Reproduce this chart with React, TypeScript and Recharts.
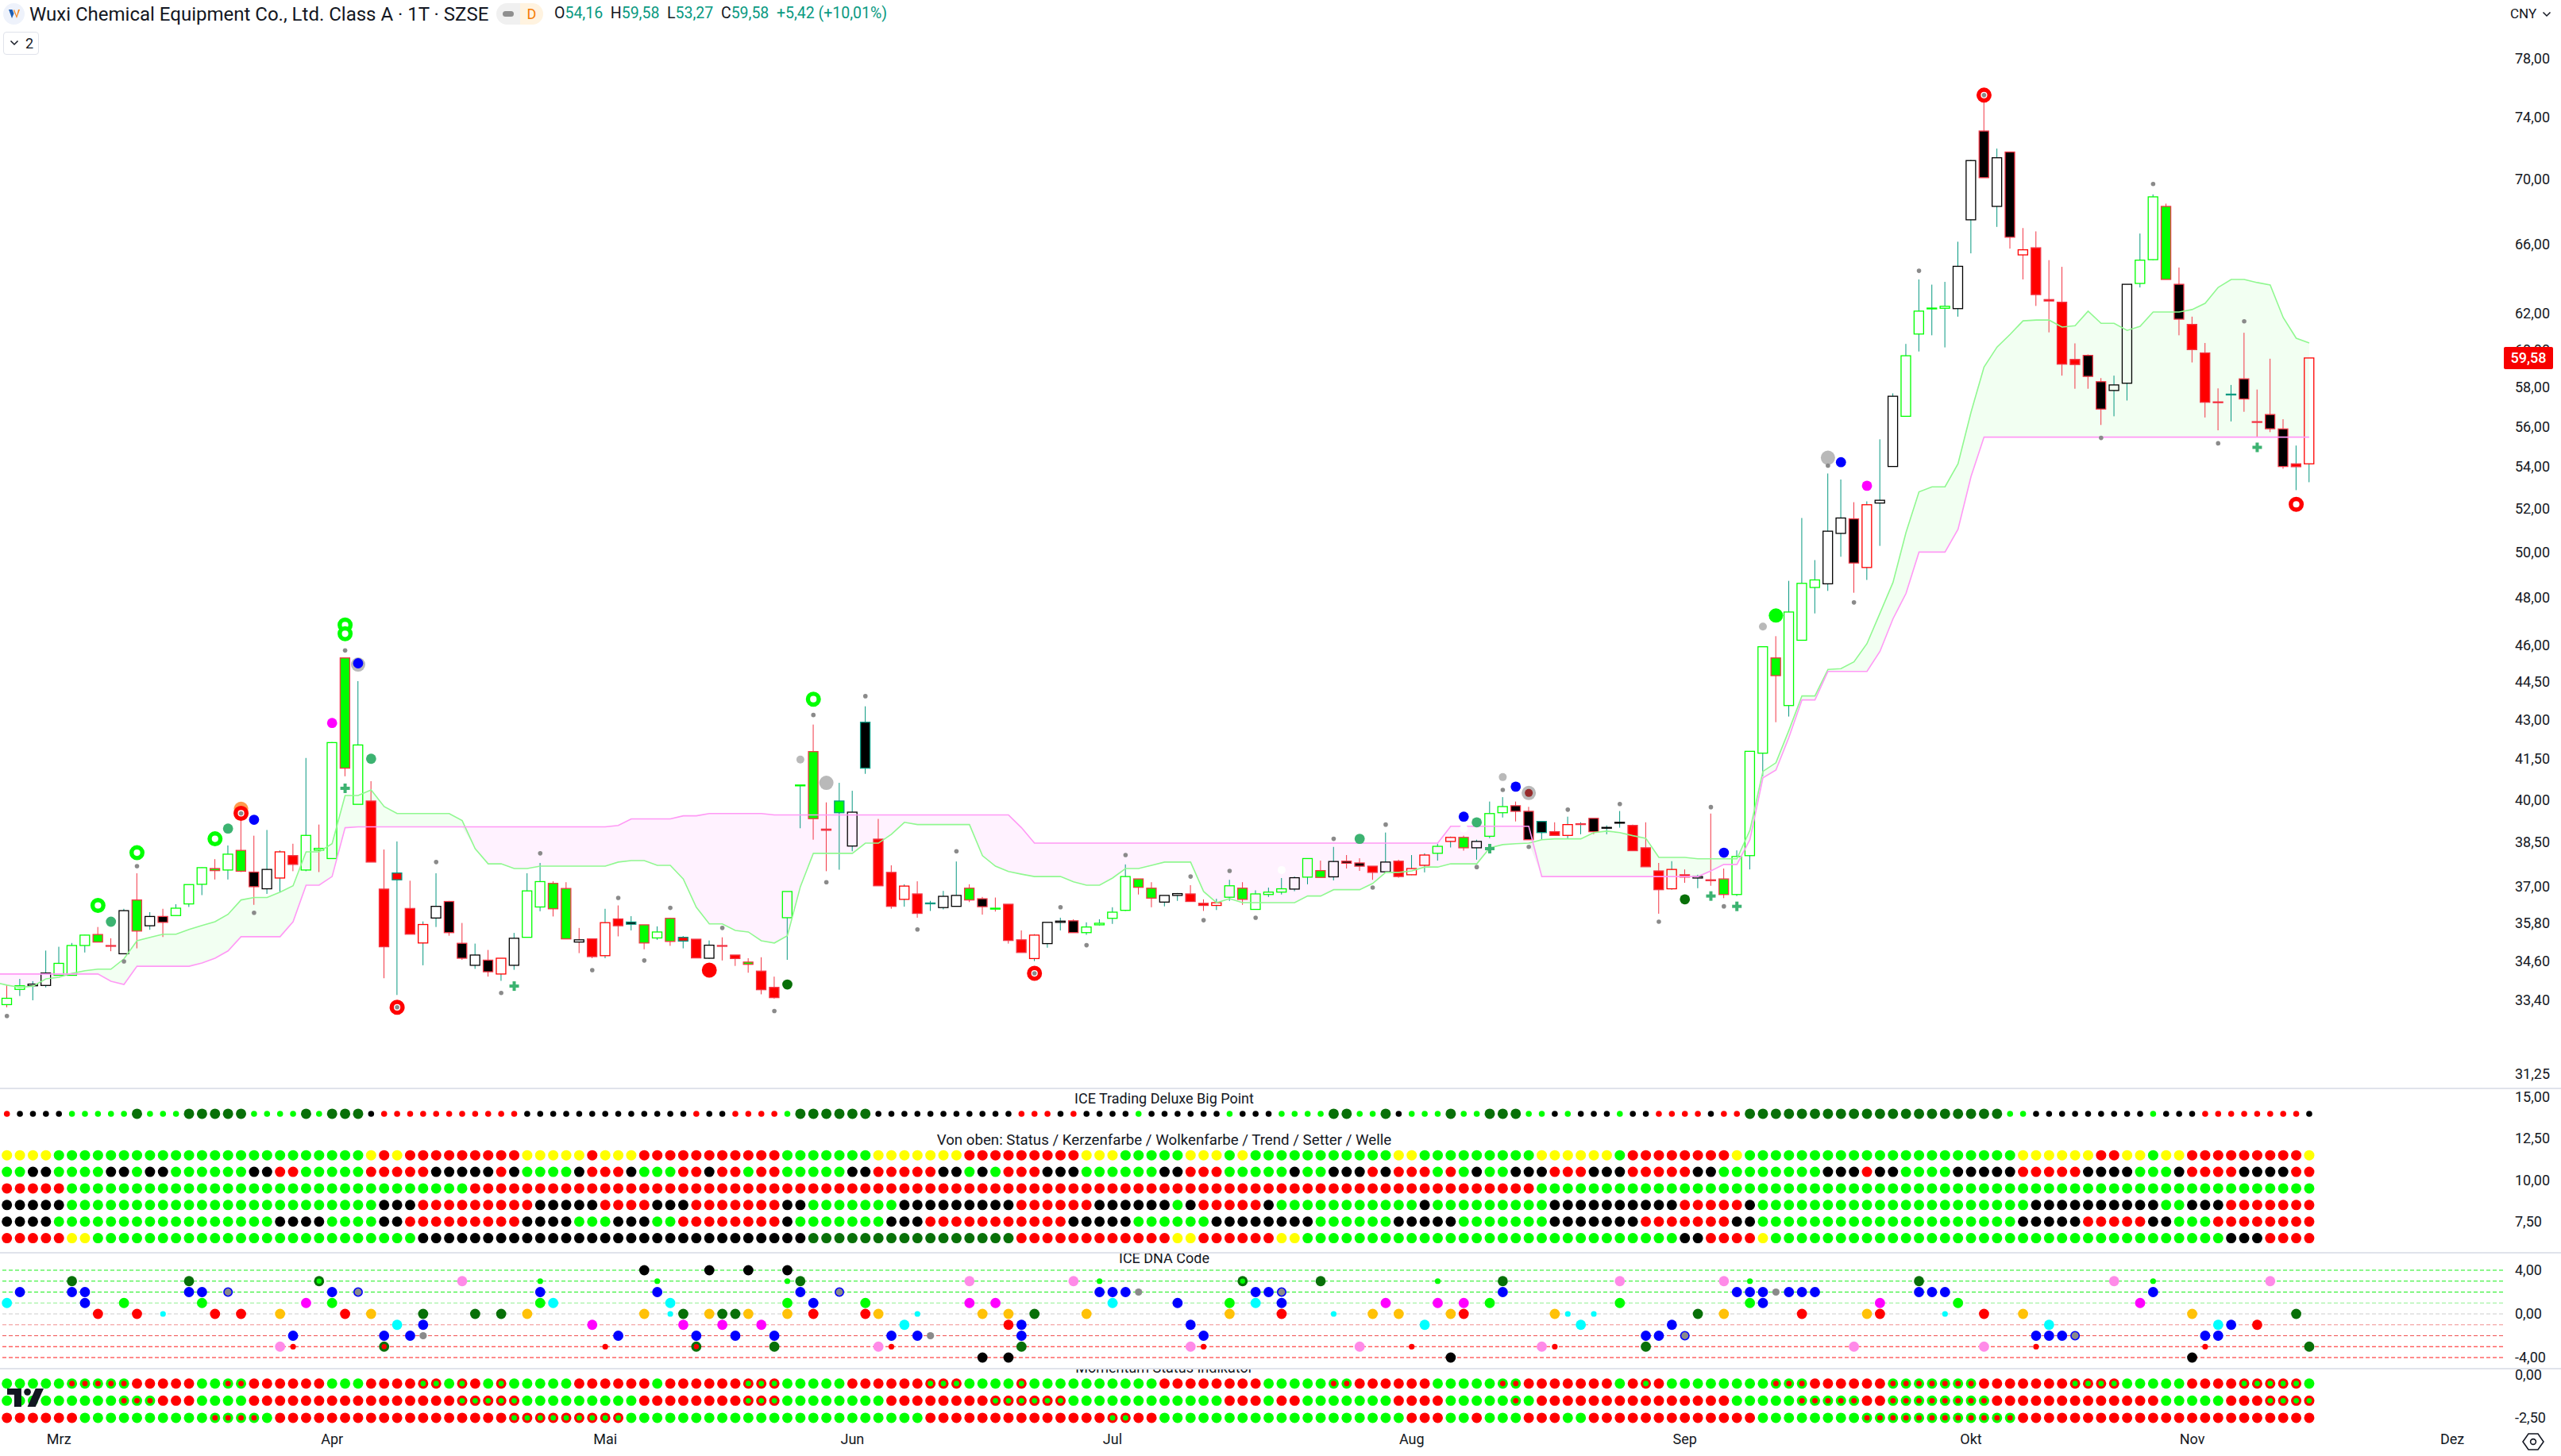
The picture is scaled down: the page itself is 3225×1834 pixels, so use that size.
import React from 'react';
import { Area, Bar, ComposedChart, Line, ReferenceLine, Scatter, XAxis, YAxis } from 'recharts';

const opens = [
  33.46,33.73,33.84,33.85,34.16,34.16,35.09,35.44,35.09,34.83,
  36.56,35.72,36.02,36.05,36.43,37.08,37.61,37.56,38.23,37.49,
  36.93,37.29,38.05,37.56,38.30,37.95,45.47,39.85,39.97,36.92,
  37.23,36.28,35.17,35.97,36.51,35.16,34.47,34.63,34.20,34.47,
  35.35,36.33,37.11,36.94,35.27,35.30,34.77,35.94,35.77,35.75,
  35.33,35.96,35.23,35.29,34.69,35.09,34.79,34.57,34.29,33.79,
  35.98,40.52,41.79,38.97,39.55,38.38,41.17,38.62,37.48,36.58,
  36.76,36.45,36.31,36.35,36.95,36.60,36.29,36.42,35.27,34.68,
  35.15,35.83,35.88,35.50,35.75,35.96,36.22,37.26,36.95,36.49,
  36.71,36.76,36.45,36.38,36.65,36.95,36.25,36.74,36.82,36.92,
  37.32,37.54,37.33,37.86,37.80,37.69,37.50,37.86,37.40,37.72,
  38.13,38.54,38.68,38.32,38.72,39.55,39.80,39.60,38.85,38.88,
  38.75,39.13,39.35,39.01,39.18,39.10,38.32,37.53,36.93,37.40,
  37.29,37.23,37.26,36.74,38.05,41.73,45.47,43.56,46.20,48.45,
  48.61,50.87,51.54,49.33,52.28,54.03,56.53,60.88,62.30,62.31,
  62.29,67.48,73.10,68.30,71.73,65.68,65.80,62.80,62.65,59.50,
  59.72,58.32,57.86,58.24,63.72,65.10,68.30,63.67,61.41,59.85,
  57.27,57.63,58.47,56.26,56.62,55.89,54.02,54.16,
];
const closes = [
  33.27,33.84,33.89,34.23,34.53,35.09,35.42,35.20,35.08,36.21,
  35.55,36.02,35.83,36.29,37.07,37.64,37.54,38.10,37.52,37.00,
  37.58,38.18,37.75,38.75,38.24,42.13,41.17,42.04,37.83,35.05,
  37.46,35.45,35.76,36.35,35.50,34.69,34.79,34.27,34.69,35.32,
  36.86,37.17,36.27,35.30,35.20,34.74,35.82,35.72,35.84,35.17,
  35.52,35.22,35.35,34.70,35.10,35.07,34.68,34.50,33.72,33.48,
  36.84,40.55,39.34,38.93,39.97,39.57,42.91,37.03,36.35,37.02,
  36.12,36.46,36.68,36.71,36.56,36.34,36.26,35.25,34.87,35.42,
  35.83,35.87,35.50,35.68,35.80,36.16,37.34,36.98,36.62,36.71,
  36.77,36.51,36.38,36.47,37.03,36.58,36.76,36.82,36.93,37.30,
  37.95,37.31,37.85,37.79,37.69,37.48,37.83,37.34,37.61,38.07,
  38.37,38.68,38.32,38.54,39.52,39.77,39.60,38.60,39.24,38.75,
  39.13,39.16,38.88,39.03,39.21,38.22,37.67,36.90,37.58,37.32,
  37.34,37.20,36.74,38.02,41.80,45.93,44.75,47.39,48.63,48.78,
  50.97,51.58,49.53,52.20,52.41,57.56,59.70,62.15,62.32,62.42,
  64.71,71.18,70.09,71.36,66.43,65.38,63.08,62.72,59.25,59.23,
  58.60,56.90,58.15,63.67,65.07,68.89,63.95,61.70,60.03,57.25,
  57.23,57.67,57.42,56.22,55.90,54.03,54.16,59.58,
];
const highs = [
  33.87,34.05,33.98,34.93,35.05,35.17,35.43,35.68,35.32,36.27,
  37.45,36.16,36.27,36.42,37.07,37.65,37.93,38.40,39.55,38.74,
  38.94,38.23,38.46,41.55,39.13,42.15,45.47,44.53,40.69,38.26,
  38.54,37.20,35.86,37.45,36.53,35.81,35.15,34.95,34.69,35.49,
  37.45,37.80,37.18,37.15,35.65,35.30,36.27,36.38,36.03,35.75,
  35.70,35.98,35.39,35.29,35.25,35.35,34.79,34.69,34.72,34.12,
  36.84,40.55,42.82,39.92,40.63,40.34,43.53,39.33,37.72,37.08,
  37.18,36.53,36.86,37.85,37.08,36.66,36.64,36.42,35.57,35.45,
  35.83,35.98,35.93,35.83,35.93,36.32,37.75,37.26,37.15,36.71,
  36.79,37.05,36.58,36.60,37.23,37.15,36.88,36.97,37.29,37.34,
  37.95,37.88,38.35,38.07,37.96,37.69,38.85,37.91,38.07,38.13,
  38.46,38.71,38.74,38.60,39.95,40.11,39.95,39.76,39.24,39.21,
  39.41,39.21,39.35,39.10,39.61,39.13,39.21,37.80,37.86,37.58,
  37.40,39.52,37.61,38.23,41.80,45.93,46.37,48.74,51.58,49.66,
  53.69,53.40,52.32,52.36,55.37,57.71,60.34,63.95,63.65,63.81,
  66.16,71.22,75.05,71.95,71.73,66.98,66.78,65.07,64.68,60.37,
  59.77,58.51,58.64,63.67,66.65,69.04,68.47,64.64,61.84,60.39,
  57.97,58.15,60.95,57.91,59.54,56.38,55.06,59.58,
];
const lows = [
  33.19,33.53,33.40,33.79,34.16,34.16,34.87,35.19,34.91,34.83,
  35.00,35.59,35.36,36.05,36.33,36.72,37.24,37.24,37.49,36.40,
  36.76,36.82,37.52,37.52,37.49,37.95,40.87,39.85,37.83,34.07,
  33.56,35.45,34.47,35.68,35.40,34.64,34.36,34.12,33.99,34.33,
  35.35,36.19,36.02,35.30,34.85,34.69,34.69,35.38,35.57,34.97,
  35.27,35.08,35.00,34.70,34.67,34.62,34.45,34.24,33.58,33.45,
  34.64,39.00,38.60,37.52,37.57,38.20,40.96,37.03,36.27,36.34,
  35.98,36.20,36.25,36.35,36.49,36.08,36.18,35.15,34.87,34.60,
  35.02,35.57,35.50,35.43,35.73,35.78,36.20,36.74,36.32,36.35,
  36.53,36.51,36.20,36.23,36.53,36.40,36.25,36.66,36.74,36.85,
  37.08,37.30,37.21,37.61,37.53,37.23,37.48,37.30,37.39,37.48,
  37.88,38.33,38.22,37.91,38.65,39.38,39.24,38.60,38.60,38.75,
  38.63,38.79,38.79,38.79,39.02,38.22,37.67,36.11,36.90,37.13,
  36.95,37.03,36.62,36.69,37.58,40.87,42.91,43.13,46.20,47.33,
  48.30,49.81,48.22,48.78,50.30,54.03,56.53,59.93,60.81,60.15,
  61.84,65.47,70.09,67.05,65.75,63.95,62.44,60.97,58.64,57.95,
  57.95,56.09,56.53,57.34,63.49,65.07,63.95,60.81,59.34,56.47,
  55.82,56.27,56.76,55.48,55.73,53.92,52.89,53.27,
];
// candle look per bar, see candleLook below
const candleKinds =
  'aaccaaabfc' + 'bcdaaababd' + 'chfaaabaff' + 'ifhcddcdhc' + 'aabbcfhfeb' +
  'abifcffbff' + 'aabfjceffh' + 'feccbdaffh' + 'ccdaaaabbc' + 'cffhabaaac' +
  'abcddfcfhh' + 'ahbcaaddef' + 'hfdccfffhf' + 'cfbaaabaaa' + 'ccdhccaaaa' +
  'ccdcdhffff' + 'ddccaabdff' + 'fedfddfh';

const cloudA = [
  33.86,33.79,33.83,34.05,34.10,34.22,34.30,34.35,34.35,34.67,
  35.24,35.35,35.45,35.45,35.60,35.73,35.85,36.09,36.56,36.64,
  36.64,36.82,37.03,38.18,38.18,38.46,40.17,40.17,40.37,39.77,
  39.52,39.52,39.52,39.52,39.52,39.27,38.29,37.77,37.77,37.61,
  37.61,37.69,37.69,37.69,37.69,37.69,37.69,37.83,37.88,37.88,
  37.72,37.72,37.26,36.32,35.78,35.78,35.57,35.52,35.24,35.17,
  35.40,37.00,38.13,38.13,38.13,38.13,38.48,38.48,38.79,39.21,
  39.13,39.13,39.13,39.13,39.13,38.05,37.69,37.51,37.42,37.34,
  37.34,37.34,37.16,37.05,37.05,37.29,37.61,37.61,37.72,37.83,
  37.83,37.83,36.84,36.47,36.60,36.47,36.47,36.47,36.47,36.47,
  36.69,36.69,36.90,36.90,36.90,37.11,37.48,37.48,37.53,37.66,
  37.66,37.77,37.77,37.77,38.32,38.43,38.46,38.48,38.60,38.63,
  38.63,38.63,38.85,38.90,38.85,38.74,38.65,37.99,37.99,37.99,
  37.94,37.94,37.94,37.94,38.93,41.05,41.37,42.60,43.94,43.94,
  45.00,45.03,45.31,46.06,47.34,48.67,50.91,52.81,53.05,53.05,
  54.16,56.74,59.10,60.17,60.86,61.61,61.65,61.65,61.26,61.34,
  62.15,61.47,61.47,61.08,61.30,62.10,62.10,62.10,62.24,62.59,
  63.49,63.95,63.95,63.77,63.63,61.79,60.65,60.39,
];
const cloudB = [
  34.20,34.20,34.20,34.20,34.20,34.20,34.20,34.20,33.98,33.88,
  34.44,34.44,34.44,34.44,34.44,34.54,34.69,34.92,35.37,35.37,
  35.37,35.37,35.85,37.05,37.05,37.34,39.02,39.05,39.05,39.05,
  39.05,39.05,39.05,39.05,39.05,39.05,39.05,39.05,39.05,39.05,
  39.05,39.05,39.05,39.05,39.05,39.05,39.05,39.10,39.33,39.33,
  39.33,39.33,39.44,39.44,39.52,39.52,39.52,39.52,39.52,39.47,
  39.47,39.47,39.47,39.47,39.47,39.47,39.47,39.47,39.47,39.47,
  39.47,39.47,39.47,39.47,39.47,39.47,39.47,39.47,39.02,38.48,
  38.48,38.48,38.48,38.48,38.48,38.48,38.48,38.48,38.48,38.48,
  38.48,38.48,38.48,38.48,38.48,38.48,38.48,38.48,38.48,38.48,
  38.48,38.48,38.48,38.48,38.48,38.48,38.48,38.48,38.48,38.48,
  38.48,39.07,39.07,39.07,39.07,39.07,39.07,39.07,37.34,37.34,
  37.34,37.34,37.34,37.34,37.34,37.34,37.34,37.34,37.34,37.34,
  37.34,37.53,37.75,37.75,38.60,40.81,41.10,42.33,43.78,43.78,
  44.92,44.92,44.92,44.92,45.74,47.10,48.19,50.02,50.02,50.02,
  51.06,53.54,55.48,55.48,55.48,55.48,55.48,55.48,55.48,55.48,
  55.48,55.48,55.48,55.48,55.48,55.48,55.48,55.48,55.48,55.48,
  55.48,55.48,55.48,55.48,55.48,55.48,55.48,55.48,
];
// the cloud runs in from the bar before the first candle
const cloudLead = { a: 33.95, b: 34.20 };

const priceTicks = [78, 74, 70, 66, 62, 60, 58, 56, 54, 52, 50, 48, 46, 44.5, 43, 41.5, 40, 38.5, 37, 35.8, 34.6, 33.4, 31.25];
const lastPrice = 59.58;

// marks on the price pane: [bar, price]
const grayDots = [[0,32.93],[10,37.69],[9,34.59],[18,39.53],[19,36.14],[26,45.78],[30,33.19],[33,37.83],[38,33.62],[41,38.13],[45,34.32],[47,36.63],
  [49,34.62],[51,36.30],[55,35.65],[59,33.08],[62,43.19],[63,37.15],[66,43.93],[70,35.60],[73,38.20],[79,34.22],[81,36.32],[83,35.10],[86,38.07],[91,37.34],[92,35.90],[94,37.53],[96,35.98],
  [102,38.63],[105,36.97],[106,39.13],[113,37.66],[115,40.37],[117,38.35],[120,39.66],[124,39.86],[127,35.85],[131,39.75],[132,36.35],
  [140,54.07],[142,47.80],[147,64.45],[152,75.5],[161,55.44],[165,69.69],[170,55.17],[172,61.58]];
const lightSmall = [[61,41.49],[115,40.84],[135,46.77]];
const lightBig = [[27,45.2],[63,40.63],[117,40.26],[140,54.46]];
const whiteDots = [[98,37.56],[112,38.99]];
const brownDots = [[117,40.26]];
const greenRings = [[7,36.38],[10,38.15],[16,38.63],[26,46.84],[26,46.47],[62,43.81]];
const orangeDots = [[18,39.69]];
const redRings = [[18,39.53],[30,33.19],[79,34.22],[152,75.5],[176,52.22]];
const redBig = [[54,34.32]];
const greenBig = [[136,47.24]];
const darkDots = [[60,33.88],[129,36.58]];
const seaDots = [[8,35.85],[17,38.99],[28,41.52],[104,38.63],[113,39.21]];
const blueDots = [[19,39.30],[27,45.25],[112,39.41],[116,40.49],[132,38.15],[141,54.24]];
const magentaDots = [[25,42.88],[143,53.1]];
const seaPlus = [[26,40.43],[39,33.83],[114,38.29],[131,36.69],[133,36.35],[173,54.97]];

// status rows: r red, g green, k black, y yellow, D dark green
const bigPoint =
  'rkkkkgggggDgggDDDDDggggDgDDDkrrrrrrrrrrrkkkkkkkkk' +
  'kkkkrkkrrrrgDDDDDDkkkkkkkkkkkrrrkrkkkkgkkkkkkgkkk' +
  'ggggDDggDkgggDggDDDggkgkkkgkkrrrrkrrDDDDDDDDDDDDD' +
  'DDDDDDDggkkkkkkkkkgkkkrrrrrrrrk';
const statusRow =
  'yyyyggggggggggggggggggggggggyryrrrrrrrrryyyyyryyy' +
  'rrrrrrrrrrrgggggggyyyyyyyrrrrrrrrryyygggggyyygygg' +
  'gggggggggyygggggggggyyyyyygrrrrrrrryggggggggggggg' +
  'ggggggggyyyyyyrryygyyrrrrrrrrry';
const candleRow =
  'ggkkggggkkgkkggggggkkrrgggggrrrrrkkkkkrkggggkrrrk' +
  'gggrrkrrgrrgggggkkrrrrrkkgkgrrrkkkggggggkkrrrgggg' +
  'gkggkkkrkrrrgrgkggkkkrrrkkkrrrrrkkggggggggkkkrkkg' +
  'gggkkkkkrrrrrkkkkgggkrrrrkkkkrr';
const cloudRow =
  'rrrrrgggggggggggggggggggggggggggggggrrrrrrrrrrrrr' +
  'rrrrrrrrrrrrrrrrrrrrrrrrrrrrrrrrrrrrrrrrrrrrrrrrr' +
  'rrrrrrrrrrrrrrrrrrrrggggggggggggggggggggggggggggg' +
  'ggggggggggggggggggggggggggggggg';
const trendRow =
  'kkkkkggggggggggggggggggggggggkkkrrrrrrrrrkkkkkrrr' +
  'rkkkrrrrrrrkkgggggggkkkkkkkkkrrrrrrkkkkkkgkrrrrrk' +
  'gggggggggggkgggggggggkkkkkkkkkkrrrrrkgggggggggggg' +
  'gggggggggkkkkkkkkkkggkkkrrrrrrr';
const setterRow =
  'kkkkgggggggggggggggggkkkkggggkkrrrrrrrrrkkkkgggkk' +
  'kggrrrrrrrrkgggggggkkkrrrrrrrrrrrkkkkkggggggkkkkk' +
  'kkkggggggkkkkkgggggggkkkkkkkrrrrrrrkkgggggggggggg' +
  'ggggggggkkkkkrrrrrkkgggrrrrrrrr';
const waveRow =
  'rrrrryygggggggggggggggggggggggggkkkkkkkkkkkkkkkkk' +
  'kkkkkkkkkkkkkDDDDDDDDDDDDDDDDrrrrrrrrrrrryyrrrrrr' +
  'yygggggggggggggggggggggggggggggkkrrrryggggggggggg' +
  'ggggggggggggggggggggggggkkkrrrr';
const statusRows = [bigPoint, statusRow, candleRow, cloudRow, trendRow, setterRow, waveRow];
const statusLevels = [14, 11.5, 10.5, 9.5, 8.5, 7.5, 6.5];

// ICE DNA Code: [bar, level]
const dnaCyan = [[0,1],[30,-1],[42,1],[51,1],[69,-1],[85,1],[96,1],[109,-1],[121,-1],[157,-1],[170,-1]];
const dnaCyanSmall = [[12,0],[51,0],[70,0],[102,0],[120,0],[122,0],[149,0]];
const dnaBlue = [[1,2],[5,2],[6,2],[6,1],[14,2],[15,2],[22,-2],[25,2],[29,-2],[31,-2],[32,-1],[41,2],[47,-2],[50,2],[53,-2],[56,-2],[59,-2],[61,2],[62,1],[68,-2],[70,-2],[78,-1],[78,-2],[84,2],[85,2],[86,2],[90,1],[91,-1],[92,-2],[96,2],[97,2],[98,1],[115,2],[126,-2],[127,-2],[128,-1],[133,2],[134,2],[135,2],[135,1],[137,2],[138,2],[139,2],[147,2],[148,2],[149,2],[156,-2],[157,-2],[158,-2],[165,2],[169,-2],[170,-2],[171,-1]];
const dnaDark = [[5,3],[14,3],[32,0],[36,0],[38,0],[52,0],[55,0],[56,0],[59,-3],[61,3],[78,-3],[79,0],[101,3],[115,3],[126,-3],[130,0],[147,3],[176,0],[177,-3]];
const dnaDarkRed = [[29,-3],[53,-3]];
const dnaDarkGreen = [[24,3],[95,3]];
const dnaRed = [[7,0],[10,0],[16,0],[18,0],[26,0],[62,0],[66,0],[77,-1],[98,0],[112,0],[138,0],[144,0],[152,0],[173,-1]];
const dnaRedSmall = [[22,-3],[46,-3],[68,-3],[92,-3],[108,-3],[119,-3],[156,-3],[169,-3]];
const dnaGreen = [[9,1],[15,1],[25,1],[41,1],[60,1],[66,1],[94,1],[114,1],[124,1],[134,1],[150,1]];
const dnaGreenSmall = [[41,3],[50,3],[60,3],[84,3],[110,3],[134,3],[165,3]];
const dnaAmber = [[21,0],[28,0],[40,0],[49,0],[54,0],[57,0],[60,0],[67,0],[75,0],[77,0],[83,0],[94,0],[105,0],[107,0],[111,0],[119,0],[132,0],[143,0],[155,0],[168,0]];
const dnaPink = [[21,-3],[35,3],[67,-3],[74,3],[82,3],[91,-3],[104,-3],[118,-3],[124,3],[132,3],[142,-3],[152,-3],[162,3],[174,3]];
const dnaMagenta = [[23,1],[45,-1],[52,-1],[55,-1],[58,-1],[74,1],[76,1],[106,1],[110,1],[112,1],[144,1],[164,1]];
const dnaGrayRing = [[17,2],[27,2],[64,2],[98,2],[129,-2],[159,-2]];
const dnaGraySmall = [[32,-2],[71,-2],[87,2],[136,2]];
const dnaBlack = [[49,4],[54,4],[57,4],[60,4],[75,-4],[77,-4],[111,-4],[168,-4]];
const dnaLevels = [4, 3, 2, 1, 0, -1, -2, -3, -4];

// Momentum Status: g, r solid; a green with red core; b red with green core
const momentumA =
  'gggggaaaaarrrrrggaarrrrrrgggrrrrbbgbrgbgggggrrrrr' +
  'rgrrrrrrbbbgggggrrrrrrbbbggggbggggggggggrrrrrrrrg' +
  'ggggaarrrrrrgggggaarrrrrrrgrbrggggggggaaarrrrrraa' +
  'aaaaarrrrrrrbbbbgggggrrrrbbbbbg';
const momentumB =
  'gggggggggaaarrrggggrrrrrrrrrrrrrrrrbbbbbggggggggg' +
  'rrrrrrrrbbbggggggggrrrrrrrrbbbbbbggggggggggggrrrg' +
  'rrgggggggrrrrgggggagrrrrrrrrrrrrrrrgggggaaaaarraa' +
  'aaaaaarrrrrrrrrrrrrgggggrrrbbbb';
const momentumC =
  'rrrrrrggggggggggaaaagrrrrrrrrrrrrrrrrrrbbbbbbbbbg' +
  'ggggggggggggggggggggggrrrrrrrrrrrrrrbbrrggggggggg' +
  'ggggggggggrrrggrgggrrrggrrrrrrrrrrrrrggggggggaaaa' +
  'aaaaaaaarrrrrrrrrrrrrrrrrrrrrrr';
const momentumRows = [momentumA, momentumB, momentumC];
const momentumLevels = [-0.5, -1.5, -2.5];

const monthBars = [4, 25, 46, 65, 85, 108, 129, 151, 168, 188];
const monthNames = ['Mrz', 'Apr', 'Mai', 'Jun', 'Jul', 'Aug', 'Sep', 'Okt', 'Nov', 'Dez'];

const WIDTH = 3225;
const AXIS_W = 73;
const X_DOMAIN = [-0.531, 191.9];
const FONT = 'Roboto, sans-serif';
const TEXT = '#131722';
const TEAL = '#089981';
const RED = '#f23645';
const LIME = '#00ff00';
const PURE_RED = '#ff0000';
const DARK = '#087008';

const dotColors: Record<string, string> = { r: PURE_RED, g: LIME, k: '#000000', y: '#ffff00', D: DARK };

const candleLook: Record<string, { fill: string; stroke: string }> = {
  a: { fill: 'none', stroke: LIME },
  b: { fill: LIME, stroke: RED },
  c: { fill: 'none', stroke: '#000000' },
  d: { fill: '#000000', stroke: RED },
  e: { fill: '#000000', stroke: TEAL },
  f: { fill: PURE_RED, stroke: RED },
  h: { fill: 'none', stroke: PURE_RED },
  i: { fill: PURE_RED, stroke: TEAL },
  j: { fill: LIME, stroke: TEAL },
};

const cloudFields = (a: number, b: number) => ({
  cloudA: a,
  cloudB: b,
  fillUp: [Math.min(a, b), a],
  fillDown: [Math.min(a, b), b],
});

const rows: any[] = [
  { i: -1, ...cloudFields(cloudLead.a, cloudLead.b) },
  ...opens.map((open, i) => ({
    i,
    open,
    close: closes[i],
    high: highs[i],
    low: lows[i],
    kind: candleKinds[i],
    range: [lows[i], highs[i]],
    ...cloudFields(cloudA[i], cloudB[i]),
  })),
];

const points = (pairs: number[][]) => pairs.map(([i, v]) => ({ i, v }));

const Candle = (props: any) => {
  const { x, y, width, height, payload } = props;
  if (!payload.kind) return null;
  const { high, low, open, close, kind } = payload;
  const cx = x + width / 2;
  const toY = (v: number) => y + (height * Math.log(high / v)) / Math.log(high / low);
  const top = toY(Math.max(open, close));
  const bottom = toY(Math.min(open, close));
  const look = candleLook[kind];
  const wick = close >= open ? TEAL : RED;
  return (
    <g>
      <line x1={cx} x2={cx} y1={y} y2={top} stroke={wick} strokeWidth={1} />
      <line x1={cx} x2={cx} y1={bottom} y2={y + height} stroke={wick} strokeWidth={1} />
      <rect x={cx - 6} y={top} width={12} height={Math.max(bottom - top, 1)} fill={look.fill} stroke={look.stroke} strokeWidth={1.3} />
    </g>
  );
};

const disc = (fill: string, r: number, core?: string, coreR = 3.2, ring?: string) => (p: any) => (
  <g>
    <circle cx={p.cx} cy={p.cy} r={r} fill={fill} stroke={ring} strokeWidth={ring ? 1.6 : 0} />
    {core && <circle cx={p.cx} cy={p.cy} r={coreR} fill={core} />}
  </g>
);
const hoop = (color: string) => (p: any) => <circle cx={p.cx} cy={p.cy} r={6.8} fill="#ffffff" stroke={color} strokeWidth={5.4} />;
const plus = (color: string) => (p: any) => (
  <g fill={color}>
    <rect x={p.cx - 6} y={p.cy - 2} width={12} height={4} />
    <rect x={p.cx - 2} y={p.cy - 6} width={4} height={12} />
  </g>
);

const priceMarks: [number[][], any][] = [
  [lightBig, disc('#b9b9b9', 9)],
  [lightSmall, disc('#b9b9b9', 5)],
  [whiteDots, disc('#ffffff', 5)],
  [orangeDots, disc('#ff9a4d', 9)],
  [greenRings, hoop(LIME)],
  [redRings, hoop(PURE_RED)],
  [brownDots, disc('#962b2b', 5)],
  [grayDots, disc('#8a8a8a', 2.8)],
  [redBig, disc(PURE_RED, 9.4)],
  [greenBig, disc(LIME, 9)],
  [darkDots, disc(DARK, 6.4)],
  [seaDots, disc('#3cb371', 6.4)],
  [blueDots, disc('#0000ff', 6.4)],
  [magentaDots, disc('#ff00ff', 6.4)],
  [seaPlus, plus('#3cb371')],
];

const dnaMarks: [number[][], any][] = [
  [dnaCyan, disc('#00ffff', 6.4)],
  [dnaCyanSmall, disc('#00ffff', 3.6)],
  [dnaBlue, disc('#0000ff', 6.4)],
  [dnaDark, disc(DARK, 6.4)],
  [dnaDarkRed, disc(DARK, 6.4, PURE_RED)],
  [dnaDarkGreen, disc(DARK, 6.4, LIME)],
  [dnaRed, disc(PURE_RED, 6.4)],
  [dnaRedSmall, disc(PURE_RED, 3.6)],
  [dnaGreen, disc(LIME, 6.4)],
  [dnaGreenSmall, disc(LIME, 3.6)],
  [dnaAmber, disc('#ffc107', 6.4)],
  [dnaPink, disc('#ff8ae8', 6.4)],
  [dnaMagenta, disc('#ff00ff', 6.4)],
  [dnaGrayRing, disc('#8a8a8a', 5.2, undefined, 0, '#0000ff')],
  [dnaGraySmall, disc('#8a8a8a', 4.6)],
  [dnaBlack, disc('#000000', 6.4)],
];

const levelColor = (v: number) => {
  if (v >= 2) return '#19f019';
  if (v === 1) return '#90f090';
  if (v === 0) return '#cccccc';
  if (v === -1) return '#f09090';
  if (v === -2) return '#f05050';
  return '#ff1a1a';
};

const comma = (v: number) => v.toFixed(2).replace('.', ',');

const PriceTick = (props: any) => {
  const { y, payload } = props;
  if (payload.value === lastPrice) {
    return (
      <g>
        <rect x={3153} y={y - 14} width={62} height={28} fill="#f70000" rx={2} />
        <text x={3184} y={y + 6} textAnchor="middle" fontSize={18} fontFamily={FONT} fontWeight={500} fill="#ffffff">{comma(lastPrice)}</text>
      </g>
    );
  }
  return <text x={3167} y={y + 6} fontSize={18} fontFamily={FONT} fill={TEXT}>{comma(payload.value)}</text>;
};

const Pane = ({ top, height, title, titleY, titleSize = 18, children }: any) => (
  <div style={{ position: 'absolute', left: 0, top, width: WIDTH, height, overflow: 'hidden' }}>
    {children}
    {title && (
      <div style={{ position: 'absolute', left: 0, width: 2932, top: titleY, textAlign: 'center', fontSize: titleSize, lineHeight: '20px', fontFamily: FONT, color: TEXT }}>{title}</div>
    )}
  </div>
);

const hiddenX = <XAxis dataKey="i" type="number" domain={X_DOMAIN} allowDataOverflow hide />;

const rowPoints = (codes: string[], levels: number[]) =>
  codes.flatMap((row, r) => row.split('').map((code, i) => ({ i, v: levels[r], code, small: r === 0 })));

const StatusDot = (p: any) => {
  const { code, small } = p.payload;
  const r = small && code !== 'D' ? 3.8 : 6.5;
  return <circle cx={p.cx} cy={p.cy} r={r} fill={dotColors[code]} />;
};
const MomentumDot = (p: any) => {
  const { code } = p.payload;
  if (code === 'a' || code === 'b') {
    const outer = code === 'a' ? LIME : PURE_RED;
    const inner = code === 'a' ? PURE_RED : LIME;
    return <g><circle cx={p.cx} cy={p.cy} r={6.5} fill={outer} /><circle cx={p.cx} cy={p.cy} r={3.4} fill={inner} /></g>;
  }
  return <circle cx={p.cx} cy={p.cy} r={6.5} fill={dotColors[code]} />;
};

const Separator = ({ top }: { top: number }) => (
  <div style={{ position: 'absolute', left: 0, top: top - 1, width: WIDTH, height: 2, background: '#e0e3eb' }} />
);

const Chevron = ({ left, top }: { left: number; top: number }) => (
  <svg style={{ position: 'absolute', left, top }} width={12} height={8} viewBox="0 0 12 8">
    <path d="M1.5 1.5 L6 6 L10.5 1.5" fill="none" stroke={TEXT} strokeWidth={1.5} />
  </svg>
);

const Header = () => (
  <div style={{ fontFamily: FONT, color: TEXT }}>
    <svg style={{ position: 'absolute', left: 4, top: 4 }} width={27} height={27} viewBox="0 0 27 27">
      <circle cx={13.5} cy={13.5} r={13.5} fill="#eef2fb" />
      <path d="M7 8 L11 19 L13.5 13 L11.5 8 Z" fill="#1f5fb4" />
      <path d="M14 8 L17 16 L19 8 L21 8 L17 19 L13 9 Z" fill="#f5861f" />
    </svg>
    <div style={{ position: 'absolute', left: 37, top: 3, fontSize: 24, lineHeight: '30px', whiteSpace: 'nowrap' }}>Wuxi Chemical Equipment Co., Ltd. Class A · 1T · SZSE</div>
    <div style={{ position: 'absolute', left: 625, top: 4, width: 30, height: 27, background: '#f0f0f0', borderRadius: '14px 0 0 14px' }}>
      <div style={{ position: 'absolute', left: 8, top: 10, width: 14, height: 7, borderRadius: 4, background: '#8f8f8f' }} />
    </div>
    <div style={{ position: 'absolute', left: 655, top: 4, width: 29, height: 27, background: '#fff3e0', borderRadius: '0 14px 14px 0', textAlign: 'center', lineHeight: '27px', fontSize: 18, color: '#f57c00' }}>D</div>
    <div style={{ position: 'absolute', left: 698, top: 4, fontSize: 19.5, lineHeight: '26px', whiteSpace: 'pre', color: TEAL }}>
      <span style={{ color: TEXT }}>O</span>54,16  <span style={{ color: TEXT }}>H</span>59,58  <span style={{ color: TEXT }}>L</span>53,27  <span style={{ color: TEXT }}>C</span>59,58  +5,42 (+10,01%)
    </div>
    <div style={{ position: 'absolute', left: 4, top: 40, width: 43, height: 27, border: '1px solid #e0e3eb', borderRadius: 4, fontSize: 18, lineHeight: '27px', textIndent: 27 }}>2</div>
    <Chevron left={12} top={50} />
    <div style={{ position: 'absolute', left: 3161, top: 6, fontSize: 17, lineHeight: '22px' }}>CNY</div>
    <Chevron left={3201} top={14} />
    <svg style={{ position: 'absolute', left: 3172, top: 1798 }} width={36} height={36} viewBox="0 0 36 36">
      <path d="M12 8 H24 L31 18 L24 28 H12 L5 18 Z" fill="none" stroke={TEXT} strokeWidth={1.6} />
      <circle cx={18} cy={18} r={3.4} fill="none" stroke={TEXT} strokeWidth={1.6} />
    </svg>
    <svg style={{ position: 'absolute', left: 9, top: 1749 }} width={46} height={23} viewBox="0 0 36 18">
      <path d="M14 0H0v6h7v12h7z" fill="#131722" />
      <circle cx={20} cy={3.4} r={3.4} fill="#131722" />
      <path d="M28 18h-8l8-18h8z" fill="#131722" />
    </svg>
  </div>
);

export default function App() {
  const statusData = rowPoints(statusRows, statusLevels);
  const momentumData = rowPoints(momentumRows, momentumLevels);
  return (
    <div style={{ position: 'absolute', left: 0, top: 0, width: WIDTH, height: 1834, background: '#ffffff', overflow: 'hidden' }}>
      <Pane top={0} height={1371}>
        <ComposedChart width={WIDTH} height={1371} data={rows} margin={{ top: 0, right: 0, bottom: 0, left: 0 }}>
          {hiddenX}
          <YAxis orientation="right" width={AXIS_W} scale="log" domain={[30.85, 82.26]} allowDataOverflow ticks={[...priceTicks, lastPrice]} interval={0} axisLine={false} tickLine={false} tick={PriceTick} />
          <Area dataKey="fillUp" fill="#00ff00" fillOpacity={0.05} stroke="none" isAnimationActive={false} dot={false} activeDot={false} />
          <Area dataKey="fillDown" fill="#ff00ff" fillOpacity={0.05} stroke="none" isAnimationActive={false} dot={false} activeDot={false} />
          <Line dataKey="cloudA" stroke="#90f890" strokeWidth={1.6} dot={false} activeDot={false} isAnimationActive={false} />
          <Line dataKey="cloudB" stroke="#ff99f5" strokeWidth={1.6} dot={false} activeDot={false} isAnimationActive={false} />
          <Bar dataKey="range" barSize={12} shape={Candle} isAnimationActive={false} />
          {priceMarks.map(([pairs, shape], n) => (
            <Scatter key={n} data={points(pairs)} dataKey="v" shape={shape} isAnimationActive={false} />
          ))}
        </ComposedChart>
      </Pane>

      <Pane top={1371} height={207} title="ICE Trading Deluxe Big Point" titleY={3}>
        <ComposedChart width={WIDTH} height={207} margin={{ top: 0, right: 0, bottom: 0, left: 0 }}>
          {hiddenX}
          <YAxis orientation="right" width={AXIS_W} domain={[5.62, 15.53]} allowDataOverflow ticks={[15, 12.5, 10, 7.5]} interval={0} axisLine={false} tickLine={false} tick={PriceTick} />
          <Scatter data={statusData} dataKey="v" shape={StatusDot} isAnimationActive={false} />
        </ComposedChart>
      </Pane>
      <Pane top={1371} height={207} title="Von oben: Status / Kerzenfarbe / Wolkenfarbe / Trend / Setter / Welle" titleY={55} titleSize={18.7} />

      <Pane top={1578} height={146} title="ICE DNA Code" titleY={-3}>
        <ComposedChart width={WIDTH} height={146} margin={{ top: 0, right: 0, bottom: 0, left: 0 }}>
          {hiddenX}
          <YAxis orientation="right" width={AXIS_W} domain={[-5.02, 5.6]} allowDataOverflow ticks={[4, 0, -4]} interval={0} axisLine={false} tickLine={false} tick={PriceTick} />
          {dnaMarks.map(([pairs, shape], n) => (
            <Scatter key={n} data={points(pairs)} dataKey="v" shape={shape} isAnimationActive={false} />
          ))}
          {dnaLevels.map((v) => (
            <ReferenceLine key={v} y={v} stroke={levelColor(v)} strokeWidth={1} strokeDasharray="5 3" />
          ))}
        </ComposedChart>
      </Pane>

      <Pane top={1724} height={110} title="Momentum Status Indikator" titleY={-11}>
        <ComposedChart width={WIDTH} height={110} margin={{ top: 0, right: 0, bottom: 0, left: 0 }}>
          <XAxis dataKey="i" type="number" domain={X_DOMAIN} allowDataOverflow ticks={monthBars} interval={0} height={36} axisLine={false} tickLine={false}
            tick={{ fontSize: 18, fontFamily: FONT, fill: TEXT }} tickFormatter={(v: number) => monthNames[monthBars.indexOf(v)]} />
          <YAxis orientation="right" width={AXIS_W} domain={[-3.06, 0.37]} allowDataOverflow ticks={[0, -2.5]} interval={0} axisLine={false} tickLine={false} tick={PriceTick} />
          <Scatter data={momentumData} dataKey="v" shape={MomentumDot} isAnimationActive={false} />
        </ComposedChart>
      </Pane>

      <Separator top={1371} />
      <Separator top={1578} />
      <Separator top={1724} />
      <Header />
    </div>
  );
}
